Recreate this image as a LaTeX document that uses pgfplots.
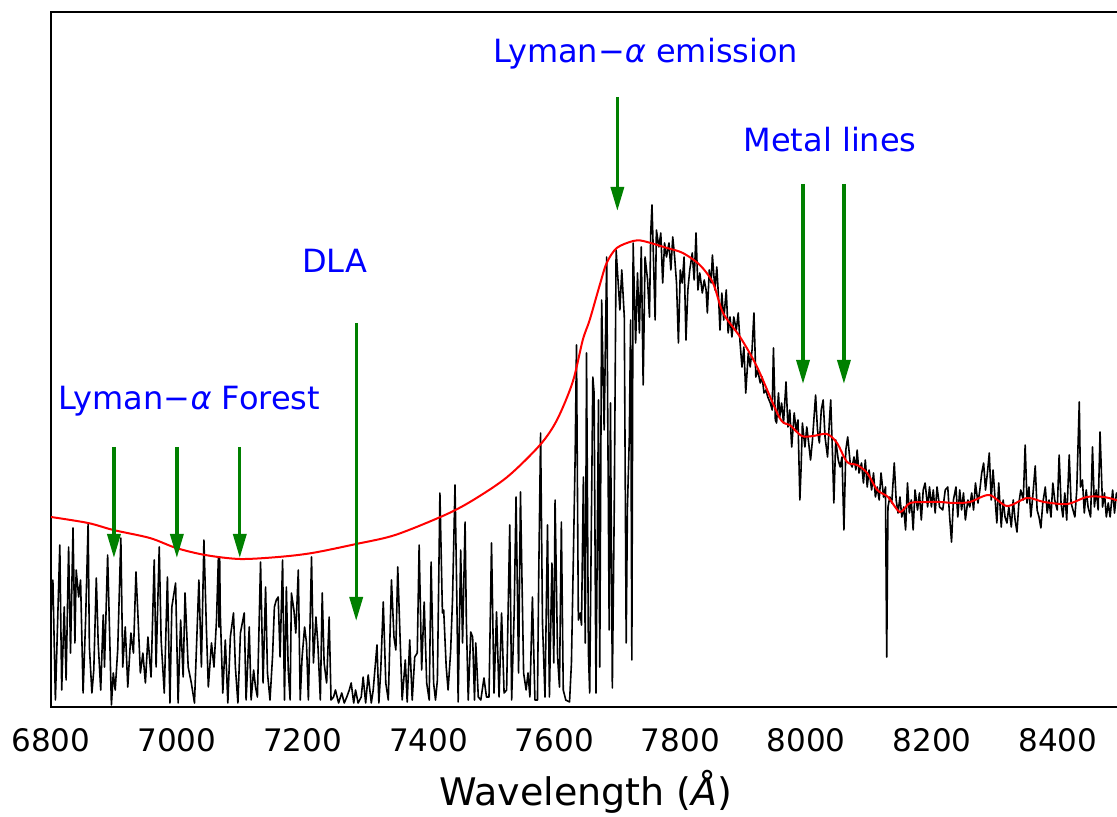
\documentclass[border=0pt]{standalone}
\usepackage{fontspec}
\setmainfont{DejaVu Sans}
\usepackage{pgfplots}
\pgfplotsset{compat=1.18}
\usetikzlibrary{arrows.meta}
\definecolor{mplgreen}{RGB}{0,128,0}
\begin{document}
\begin{tikzpicture}
\useasboundingbox (-25.5pt,-55pt) rectangle (533pt,353.5pt);
\begin{axis}[
  at={(0,0)}, anchor=south west,
  scale only axis, width=534.9pt, height=347.5pt,
  xmin=6800, xmax=8500, ymin=0, ymax=695,
  axis line style={line width=1pt},
  ytick=\empty,
  xtick={6800,7000,7200,7400,7600,7800,8000,8200,8400},
  major tick length=0pt,
  /pgf/number format/assume math mode=true,
  xticklabel style={font=\fontsize{15.5}{18}\selectfont, /pgf/number format/1000 sep=, yshift=-7pt},
  xlabel={Wavelength ({\itshape Å})},
  xlabel style={font=\fontsize{19}{22}\selectfont, at={(axis description cs:0.5,0)}, anchor=base, yshift=-49pt},
]
\addplot[black, line width=0.8pt, line join=round] coordinates {
(6800,94)(6803,127)(6807,7)(6814,162)(6817,17)(6821,100)(6824,27)(6828,160)(6831,54)(6835,179)(6838,64)(6840,137)(6844,110)(6847,127)(6851,14)(6855,87)(6859,184)(6861,60)(6865,14)(6868,37)(6872,129)(6875,64)(6879,17)(6883,92)(6885,40)(6890,152)(6893,77)(6896,2)(6899,34)(6902,17)(6906,57)(6911,169)(6914,40)(6918,80)(6922,20)(6927,74)(6931,54)(6935,135)(6938,94)(6942,34)(6946,54)(6950,24)(6954,70)(6959,30)(6964,147)(6967,40)(6972,160)(6975,67)(6980,14)(6985,130)(6989,4)(6992,100)(6998,124)(7002,4)(7006,87)(7010,30)(7013,114)(7018,40)(7023,24)(7028,4)(7035,127)(7039,40)(7043,167)(7047,77)(7050,20)(7055,64)(7059,40)(7063,87)(7066,150)(7067,80)(7068,150)(7069,94)(7073,14)(7077,67)(7081,4)(7085,70)(7090,94)(7093,40)(7097,4)(7101,74)(7107,94)(7110,7)
(7111,20)(7115,80)(7118,7)(7122,37)(7125,20)(7128,10)(7133,145)(7137,24)(7141,120)(7144,34)(7148,7)(7152,50)(7155,100)(7158,107)(7161,110)(7164,50)(7168,147)(7171,7)(7174,120)(7177,37)(7180,7)(7182,114)(7186,97)(7189,74)(7193,137)(7196,7)(7199,50)(7203,80)(7206,64)(7209,7)(7214,150)(7217,44)(7221,90)(7224,64)(7228,7)(7231,114)(7234,44)(7238,24)(7242,90)(7245,7)(7249,10)(7252,17)(7257,4)(7262,14)(7266,4)(7270,10)(7274,17)(7277,24)(7281,4)(7284,17)(7288,4)(7293,10)(7296,30)(7300,4)(7304,32)(7309,4)(7312,17)(7318,62)(7321,4)(7324,37)(7328,105)(7332,24)(7336,7)(7341,127)(7345,70)(7348,57)(7351,140)(7355,64)(7358,7)(7363,47)(7366,5)(7370,67)(7374,7)(7378,50)(7382,54)(7385,162)(7389,37)(7393,105)(7397,24)(7401,7)(7404,145)(7408,24)(7411,7)(7414,27)(7418,214)(7422,94)
(7424,97)(7428,40)(7431,17)(7435,55)(7438,107)(7442,222)(7445,104)(7447,5)(7451,157)(7454,64)(7458,185)(7460,87)(7463,7)(7467,75)(7470,70)(7473,7)(7475,64)(7479,10)(7483,7)(7488,29)(7492,10)(7496,10)(7500,164)(7504,14)(7508,95)(7512,10)(7516,94)(7520,14)(7524,17)(7529,182)(7532,7)(7536,94)(7539,210)(7543,34)(7546,215)(7551,34)(7555,17)(7558,34)(7561,10)(7565,110)(7569,7)(7573,7)(7575,130)(7578,274)(7581,84)(7585,10)(7589,182)(7592,10)(7596,144)(7599,44)(7601,207)(7605,50)(7608,20)(7611,185)(7614,17)(7618,7)(7624,5)(7627,44)(7630,147)(7633,254)(7635,362)(7638,87)(7641,94)(7643,82)(7646,230)(7649,64)(7651,354)(7654,54)(7656,14)(7661,330)(7663,314)(7666,14)(7670,307)
(7672,40)(7675,407)(7679,277)(7683,450)(7687,77)(7689,304)(7692,19)(7695,197)(7698,457)(7700,437)(7704,397)(7707,437)(7711,390)(7714,64)(7716,200)(7719,270)(7721,387)(7723,47)(7725,464)(7729,364)(7732,434)(7735,374)(7738,460)(7741,322)(7744,450)(7748,427)(7751,390)(7753,474)(7755,502)(7757,457)(7760,387)(7762,477)(7766,460)(7769,474)(7772,424)(7775,464)(7778,450)(7782,464)(7785,437)(7788,470)(7791,450)(7794,424)(7797,364)(7800,437)(7803,424)(7806,450)(7809,367)(7812,417)(7815,437)(7819,454)(7822,427)(7825,474)(7828,417)(7831,434)(7835,414)(7838,427)(7841,417)(7843,394)(7846,437)(7849,424)(7851,452)(7855,417)(7858,440)(7861,407)(7863,377)(7866,414)(7869,387)(7873,417)(7876,374)(7879,390)(7882,370)(7885,390)(7889,377)(7892,394)(7895,364)(7898,340)(7901,360)(7904,314)(7908,354)(7911,340)(7914,357)(7917,394)(7920,330)(7923,337)(7927,324)(7930,330)(7933,314)(7936,317)(7939,310)(7943,304)(7946,297)(7948,359)(7951,287)(7953,284)(7956,314)(7958,290)
(7961,304)(7964,284)(7968,325)(7971,280)(7974,297)(7977,260)(7981,294)(7984,277)(7987,287)(7990,207)(7992,240)(7994,284)(7998,260)(8001,280)(8004,264)(8007,247)(8010,267)(8015,312)(8018,277)(8021,264)(8024,297)(8027,307)(8030,270)(8034,250)(8037,287)(8039,307)(8042,250)(8044,204)(8047,267)(8051,247)(8054,240)(8057,250)(8060,177)(8063,257)(8066,270)(8070,244)(8073,240)(8076,250)(8079,237)(8081,257)(8084,234)(8088,244)(8091,224)(8094,247)(8097,220)(8100,237)(8104,217)(8107,234)(8110,210)(8113,220)(8116,207)(8119,234)(8123,210)(8126,220)(8128,50)(8130,200)(8133,210)(8136,204)(8140,244)(8143,207)(8146,194)(8149,210)(8152,190)(8155,200)(8158,177)(8161,224)(8164,194)(8167,207)(8170,177)(8173,217)(8177,197)(8180,214)(8183,187)(8186,217)(8189,224)(8193,200)(8196,220)(8199,200)(8202,217)(8205,194)(8208,220)(8212,200)
(8217,197)(8221,217)(8225,220)(8228,190)(8231,165)(8234,207)(8238,220)(8241,190)(8244,217)(8247,197)(8250,214)(8253,187)(8257,207)(8260,200)(8263,214)(8266,197)(8269,224)(8273,204)(8276,217)(8279,234)(8282,244)(8285,217)(8288,234)(8291,254)(8294,207)(8297,237)(8300,210)(8303,184)(8306,224)(8310,180)(8313,207)(8316,190)(8319,184)(8322,200)(8326,180)(8329,207)(8332,187)(8335,175)(8338,204)(8341,217)(8345,207)(8348,262)(8351,204)(8354,220)(8357,190)(8360,210)(8364,241)(8367,197)(8370,190)(8373,179)(8376,204)(8380,220)(8383,194)(8386,207)(8389,190)(8392,224)(8395,207)(8399,197)(8402,252)(8405,204)(8408,190)(8411,214)(8414,187)(8418,252)(8421,204)(8424,197)(8427,190)(8430,217)(8434,305)(8436,220)(8439,227)(8442,194)(8445,217)(8448,200)(8452,190)(8455,260)(8458,200)(8461,217)(8464,197)(8467,275)(8471,200)(8474,214)(8477,190)(8480,204)(8483,190)(8487,217)(8490,194)(8493,214)(8498,205)
};
\addplot[red, line width=1pt, smooth, tension=0.5] coordinates {
(6800,190)(6859,184)(6899,177)(6957,169)(6999,159)(7045,152)(7100,148)(7161,150)(7215,154)(7285,163)(7347,172)(7426,192)(7471,207)(7525,230)(7577,262)(7604,287)(7629,325)(7645,367)(7656,387)(7672,422)(7683,444)(7699,459)(7725,466)(7741,466)(7779,459)(7804,454)(7831,442)(7852,424)(7868,394)(7895,370)(7922,340)(7958,289)(7974,282)(7993,271)(8011,271)(8033,273)(8049,264)(8065,245)(8081,242)(8097,234)(8113,217)(8130,210)(8149,195)(8165,204)(8192,205)(8213,205)(8235,204)(8260,205)(8291,212)(8319,201)(8351,209)(8378,205)(8415,203)(8446,210)(8473,210)(8498,206)
};
\begin{scope}[mplgreen, line width=1.7pt, -{Triangle[length=12pt,width=6.5pt]}]
\draw (axis cs:6900,260) -- (axis cs:6900,149);
\draw (axis cs:7000,260) -- (axis cs:7000,149);
\draw (axis cs:7100,260) -- (axis cs:7100,149);
\draw (axis cs:7285,384) -- (axis cs:7285,86);
\draw (axis cs:7700,610) -- (axis cs:7700,496);
\draw (axis cs:7995,523) -- (axis cs:7995,323);
\draw (axis cs:8060,523) -- (axis cs:8060,323);
\end{scope}
\begin{scope}[every node/.style={blue, anchor=base, inner sep=0pt, font=\fontsize{16}{19}\selectfont}]
\node at (axis cs:7020,297) {Lyman−{\itshape α} Forest};
\node at (axis cs:7251,434) {DLA};
\node at (axis cs:7745,644) {Lyman−{\itshape α} emission};
\node at (axis cs:8038,555) {Metal lines};
\end{scope}
\end{axis}
\end{tikzpicture}
\end{document}
